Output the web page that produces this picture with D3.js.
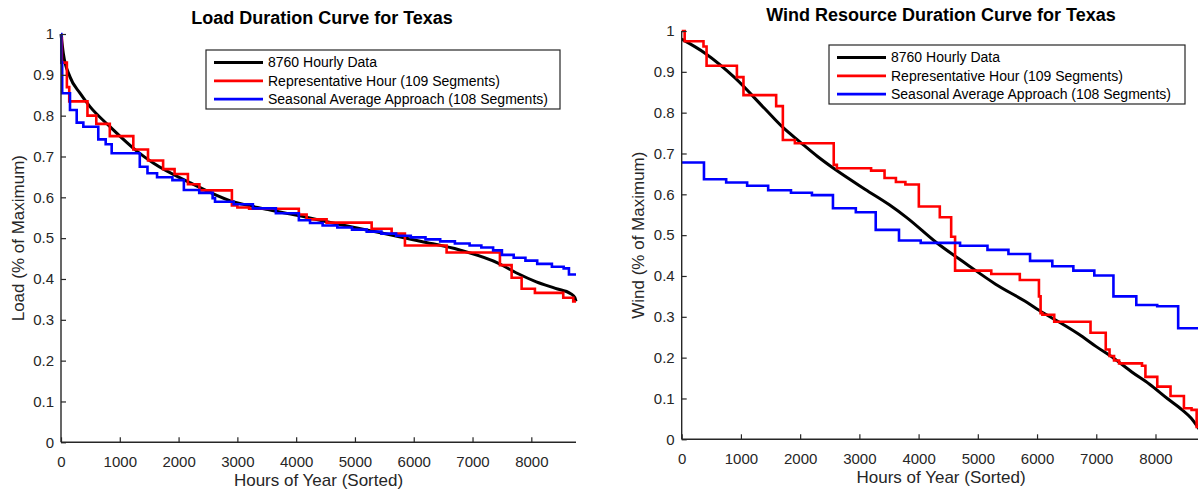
<!DOCTYPE html>
<html><head><meta charset="utf-8">
<script src="https://cdn.jsdelivr.net/npm/d3@7"></script>
<style>
body{margin:0;background:#fff}
svg{display:block;font-family:Arial,"Liberation Sans",sans-serif}
</style>
</head><body>
<svg id="chart" width="1198" height="491"></svg>
<script>
// ---------------- DATA ----------------
const xTicks = [0,1000,2000,3000,4000,5000,6000,7000,8000];
const yTicks = [0,0.1,0.2,0.3,0.4,0.5,0.6,0.7,0.8,0.9,1];
const hoursMax = 8760;
const seriesNames = ["8760 Hourly Data","Representative Hour (109 Segments)","Seasonal Average Approach (108 Segments)"];
const seriesColors = ["#000000","#ff0000","#0000ff"];

// Load - 8760 hourly (sorted) curve, sampled
const loadHourlyX = [0,39,153,323,493,833,1300,1569,2221,2872,3524,4175,4827,5478,6130,6782,7433,7759,8085,8411,8671,8740,8760];
const loadHourlyY = [1.0,0.953,0.895,0.855,0.822,0.773,0.712,0.684,0.634,0.592,0.57,0.551,0.531,0.512,0.492,0.471,0.439,0.414,0.393,0.377,0.364,0.355,0.345];
// Load - Representative hour steps (start hour, value)
const loadRepX = [0,15,100,140,450,600,830,1230,1480,1737,1932,2159,2354,2907,3000,3200,4045,4178,4518,5284,5624,5850,6559,7466,7665,7835,8061,8543,8713];
const loadRepY = [0.99,0.93,0.87,0.835,0.80,0.78,0.75,0.717,0.69,0.669,0.657,0.632,0.617,0.58,0.575,0.572,0.558,0.546,0.538,0.523,0.511,0.482,0.465,0.434,0.403,0.376,0.366,0.354,0.345];
// Load - Seasonal average steps
const loadSeasX = [0,5,20,153,267,380,634,760,862,1340,1471,1634,1895,2090,2351,2579,2620,2937,3264,3655,4046,4236,4450,4700,4950,5200,5450,5700,5950,6200,6450,6700,6950,7150,7350,7500,7700,7900,8100,8350,8550,8640];
const loadSeasY = [1.0,0.93,0.855,0.814,0.783,0.773,0.742,0.73,0.708,0.675,0.659,0.649,0.642,0.618,0.611,0.598,0.589,0.583,0.573,0.561,0.544,0.537,0.531,0.526,0.521,0.516,0.511,0.506,0.502,0.497,0.492,0.487,0.482,0.477,0.47,0.459,0.452,0.445,0.437,0.43,0.426,0.411];

// Wind - 8760 hourly (sorted) curve, sampled
const windHourlyX = [0,400,900,1400,1700,2000,2300,2600,3100,3500,3800,4300,4800,5300,5800,6100,6400,6700,7000,7300,7600,7900,8200,8450,8600,8700,8760];
const windHourlyY = [0.98,0.945,0.885,0.81,0.765,0.728,0.692,0.66,0.612,0.575,0.543,0.482,0.43,0.38,0.338,0.31,0.285,0.258,0.227,0.198,0.165,0.135,0.1,0.072,0.052,0.033,0.02];
// Wind - Representative hour steps
const windRepX = [0,50,368,420,932,1043,1595,1708,1911,2567,2620,3198,3425,3617,3777,4004,4358,4550,4616,5227,5709,6032,6060,6090,6290,6903,7160,7224,7300,7385,7772,7830,8030,8254,8480,8609,8695];
const windRepY = [1.0,0.975,0.962,0.915,0.887,0.843,0.816,0.733,0.725,0.672,0.664,0.658,0.64,0.63,0.624,0.57,0.544,0.496,0.413,0.405,0.39,0.35,0.309,0.305,0.288,0.261,0.22,0.204,0.193,0.186,0.18,0.153,0.129,0.106,0.076,0.072,0.03];
// Wind - Seasonal average steps
const windSeasX = [0,376,751,1105,1460,1845,2199,2554,2940,3276,3669,4036,4700,5163,5517,5882,6258,6613,6967,7290,7676,8029,8383];
const windSeasY = [0.678,0.637,0.629,0.621,0.61,0.604,0.598,0.566,0.556,0.513,0.487,0.481,0.474,0.464,0.454,0.437,0.424,0.413,0.401,0.35,0.329,0.326,0.272];

// ---------------- DRAW ----------------
const svg = d3.select("#chart");
const ink = "#262626";

function zip(xs, ys){ return xs.map((x,i)=>[x, ys[i]]); }
function stepData(xs, ys){ const d = zip(xs, ys); d.push([hoursMax, ys[ys.length-1]]); return d; }

function panel(cfg){
  const x = d3.scaleLinear().domain([0, hoursMax]).range([cfg.left, cfg.right]);
  const y = d3.scaleLinear().domain([0, 1]).range([cfg.bottom, cfg.top]);
  const g = svg.append("g");

  const smooth = d3.line().x(d=>x(d[0])).y(d=>y(d[1])).curve(d3.curveMonotoneX);
  const step = d3.line().x(d=>x(d[0])).y(d=>y(d[1])).curve(d3.curveStepAfter);
  g.append("path").attr("d", smooth(zip(cfg.hx, cfg.hy))).attr("fill","none")
    .attr("stroke", seriesColors[0]).attr("stroke-width",3).attr("stroke-linejoin","round");
  g.append("path").attr("d", step(stepData(cfg.rx, cfg.ry))).attr("fill","none")
    .attr("stroke", seriesColors[1]).attr("stroke-width",2.6);
  g.append("path").attr("d", step(stepData(cfg.sx, cfg.sy))).attr("fill","none")
    .attr("stroke", seriesColors[2]).attr("stroke-width",2.6);

  const xa = g.append("g").attr("transform",`translate(0,${cfg.bottom})`)
    .call(d3.axisBottom(x).tickValues(xTicks).tickFormat(d3.format("d")).tickSize(-5).tickPadding(14));
  const ya = g.append("g").attr("transform",`translate(${cfg.left},0)`)
    .call(d3.axisLeft(y).tickValues(yTicks).tickFormat(d=> d===0?"0":(d===1?"1":d3.format(".1f")(d))).tickSize(-5).tickPadding(7));
  [xa, ya].forEach(a=>{
    a.select(".domain").attr("stroke", ink).attr("stroke-width",1.4);
    a.selectAll(".tick line").attr("stroke", ink).attr("stroke-width",1.2);
    a.selectAll(".tick text").attr("fill", ink).style("font-size","15px");
  });
  ya.select(".domain").attr("d", `M0,${cfg.bottom}V${cfg.top}`);
  xa.select(".domain").attr("d", `M${cfg.left},0H${cfg.right}`);

  g.append("text").attr("x",cfg.titleX).attr("y",cfg.titleY)
    .attr("text-anchor","middle").style("font-size","18px").style("font-weight","bold")
    .attr("fill","#000").text(cfg.title);
  g.append("text").attr("x",(cfg.left+cfg.right)/2).attr("y",cfg.xLabelY)
    .attr("text-anchor","middle").style("font-size","17px").attr("fill",ink).text("Hours of Year (Sorted)");
  g.append("text").attr("transform",`translate(${cfg.yLabelX},${(cfg.top+cfg.bottom)/2}) rotate(-90)`)
    .attr("text-anchor","middle").style("font-size","17px").attr("fill",ink).text(cfg.yLabel);

  const L = cfg.legend;
  g.append("rect").attr("x",L.x).attr("y",L.y).attr("width",L.w).attr("height",L.h)
    .attr("fill","#fff").attr("stroke","#262626").attr("stroke-width",1.2);
  seriesNames.forEach((name,i)=>{
    const ry = L.y + L.row0 + i*L.dy;
    g.append("line").attr("x1",L.x+8).attr("x2",L.x+57).attr("y1",ry).attr("y2",ry)
      .attr("stroke",seriesColors[i]).attr("stroke-width", i===0?3.2:2.8);
    g.append("text").attr("x",L.x+62).attr("y",ry).attr("dy","0.35em")
      .style("font-size","14px").attr("fill","#000").text(name);
  });
}

panel({left:61, right:576, top:34, bottom:442.3, titleX:322, titleY:24, xLabelY:486, yLabelX:24,
  title:"Load Duration Curve for Texas", yLabel:"Load (% of Maximum)",
  hx:loadHourlyX, hy:loadHourlyY, rx:loadRepX, ry:loadRepY, sx:loadSeasX, sy:loadSeasY,
  legend:{x:206, y:50, w:354, h:59, row0:12.5, dy:18.3}});

panel({left:681.7, right:1200.5, top:31, bottom:439.3, titleX:941, titleY:21, xLabelY:483, yLabelX:644,
  title:"Wind Resource Duration Curve for Texas", yLabel:"Wind (% of Maximum)",
  hx:windHourlyX, hy:windHourlyY, rx:windRepX, ry:windRepY, sx:windSeasX, sy:windSeasY,
  legend:{x:829, y:45, w:356, h:59, row0:12.5, dy:18.3}});
</script>
</body></html>
